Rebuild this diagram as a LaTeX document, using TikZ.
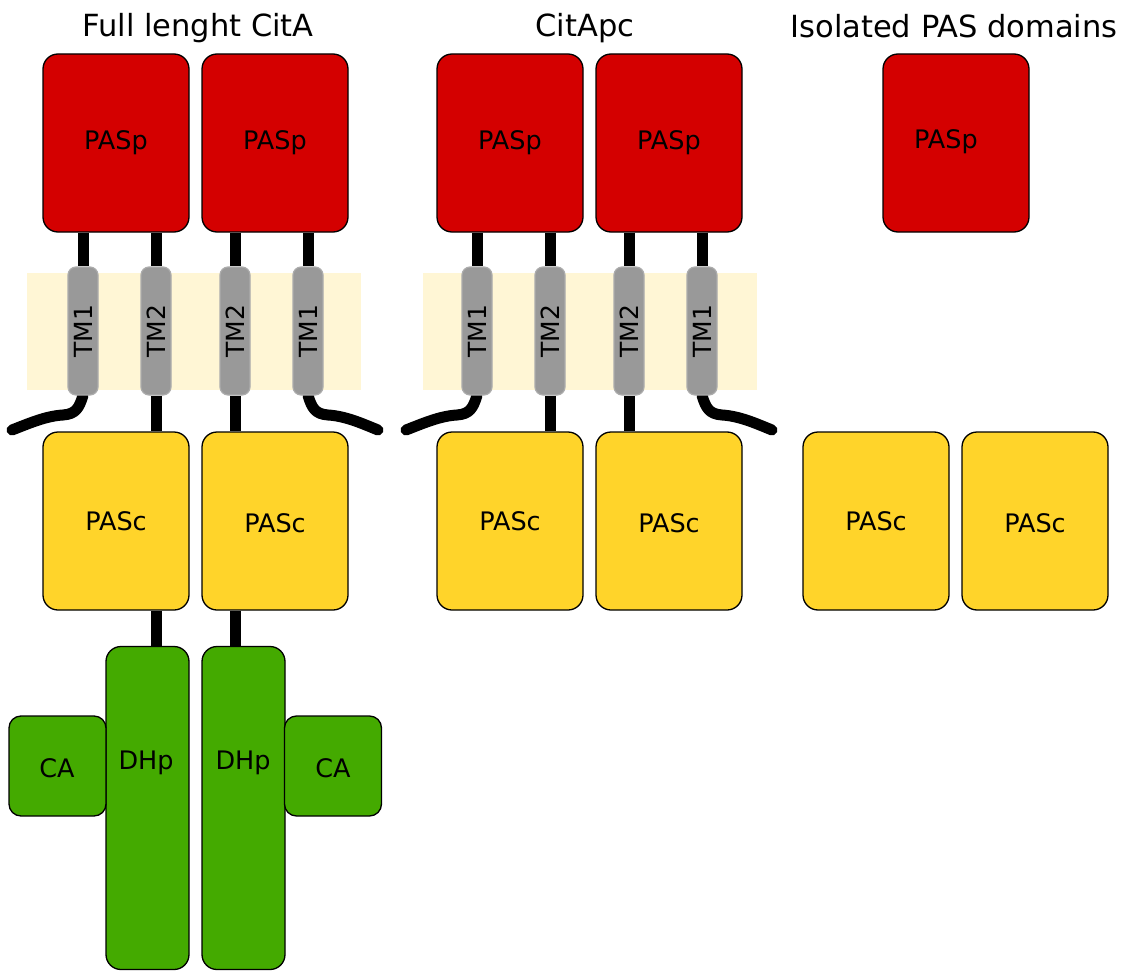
\documentclass[tikz,border=0pt]{standalone}
\usepackage{fontspec}
\setmainfont{DejaVu Sans}
\usetikzlibrary{backgrounds}
\pgfdeclarelayer{membrane}
\pgfsetlayers{membrane,background,main}
\definecolor{pasred}{HTML}{D40000}
\definecolor{pasyellow}{HTML}{FFD42A}
\definecolor{dhgreen}{HTML}{44AA00}
\definecolor{tmgray}{HTML}{999999}
\definecolor{tmedge}{HTML}{ACACAC}
\definecolor{memcol}{HTML}{FFF6D5}
\tikzset{
  box/.style={draw=black, line width=1.3pt, rounded corners=15pt, minimum width=146pt, minimum height=178pt, inner sep=0pt, font=\fontsize{25.5}{30}\selectfont},
  pasp/.style={box, fill=pasred},
  pasc/.style={box, fill=pasyellow},
  dhp/.style={box, fill=dhgreen, minimum width=83pt, minimum height=323pt},
  cabox/.style={box, fill=dhgreen, minimum width=97pt, minimum height=100pt, rounded corners=12pt},
  lbl/.style={inner sep=0pt, font=\fontsize{25.5}{30}\selectfont},
  title/.style={inner sep=0pt, anchor=base, font=\fontsize{30.5}{36}\selectfont},
  tmbar/.style={draw=tmedge, fill=tmgray, line width=1.2pt, rounded corners=8pt, minimum width=128pt, minimum height=30pt, inner sep=0pt, rotate=90, font=\fontsize{25}{30}\selectfont},
  mem/.style={fill=memcol, draw=none, minimum width=334pt, minimum height=117pt, inner sep=0pt},
  link/.style={line width=11pt, draw=black},
  curl/.style={link, line cap=round}
}
\begin{document}
\begin{tikzpicture}[x=1pt,y=-1pt]
\useasboundingbox (0,0) rectangle (1122,971);
% titles
\node[title] (ttl1) at (198,37) {Full lenght CitA};
\node[title] (ttl2) at (585,37) {CitApc};
\node[title] (ttl3) at (954,38) {Isolated PAS domains};

% ---------- Full length CitA ----------
\node[pasp] (pa1) at (116,143) {PASp};
\node[pasp] (pa2) at (275,143) {PASp};
\node[tmbar] (ta1) at (83,331) {TM1};
\node[tmbar] (ta2) at (156,331) {TM2};
\node[tmbar] (ta3) at (235,331) {TM2};
\node[tmbar] (ta4) at (308,331) {TM1};
\node[pasc] (ca1) at (116,521) {PASc};
\node[pasc] (ca2) at (275,521) {};
\node[lbl] (ca2t) at (275,523) {PASc};
\node[dhp] (dh1) at (147.5,808) {};
\node[dhp] (dh2) at (243.5,808) {};
\node[lbl] (dh1t) at (146,763) {DHp};
\node[lbl] (dh2t) at (243,763) {DHp};
\node[cabox] (cat1) at (57.5,766) {};
\node[cabox] (cat2) at (333,766) {};
\node[lbl] (cat1t) at (57,768) {CA};
\node[lbl] (cat2t) at (333,768) {CA};
\coordinate (ea1) at (12,430);
\coordinate (ea2) at (378,430);

% ---------- CitApc ----------
\node[pasp] (pb1) at (510,143) {PASp};
\node[pasp] (pb2) at (669,143) {PASp};
\node[tmbar] (tb1) at (477,331) {TM1};
\node[tmbar] (tb2) at (550,331) {TM2};
\node[tmbar] (tb3) at (629,331) {TM2};
\node[tmbar] (tb4) at (702,331) {TM1};
\node[pasc] (cb1) at (510,521) {PASc};
\node[pasc] (cb2) at (669,521) {};
\node[lbl] (cb2t) at (669,523) {PASc};
\coordinate (eb1) at (406,430);
\coordinate (eb2) at (772,430);

% ---------- Isolated ----------
\node[pasp] (pc1) at (956,143) {};
\node[lbl] (pc1t) at (946,142) {PASp};
\node[pasc] (cc1) at (876,521) {PASc};
\node[pasc] (cc2) at (1035,521) {};
\node[lbl] (cc2t) at (1035,523) {PASc};

% membranes
\begin{pgfonlayer}{membrane}
\node[mem] (mem1) at (194,331.5) {};
\node[mem] (mem2) at (589.5,331.5) {};
\end{pgfonlayer}

% connectors
\begin{pgfonlayer}{background}
% CitA
\foreach \t in {ta1,ta2,ta3,ta4}{\draw[link] (pa1.south -| \t) -- (\t);}
\draw[link] (ta2) -- (ta2 |- ca1.north);
\draw[link] (ta3) -- (ta3 |- ca2.north);
\draw[link] (ta2 |- ca1.south) -- (ta2 |- dh1.north);
\draw[link] (ta3 |- ca2.south) -- (ta3 |- dh2.north);
\draw[curl] (ta1) -- (ta1.west) .. controls (79,408) and (76,414) .. (63,415) .. controls (46,416) and (30,423) .. (ea1);
\draw[curl] (ta4) -- (ta4.west) .. controls (312,408) and (315,414) .. (328,415) .. controls (345,416) and (361,423) .. (ea2);
% CitApc
\foreach \t in {tb1,tb2,tb3,tb4}{\draw[link] (pb1.south -| \t) -- (\t);}
\draw[link] (tb2) -- (tb2 |- cb1.north);
\draw[link] (tb3) -- (tb3 |- cb2.north);
\draw[curl] (tb1) -- (tb1.west) .. controls (473,408) and (470,414) .. (457,415) .. controls (440,416) and (424,423) .. (eb1);
\draw[curl] (tb4) -- (tb4.west) .. controls (706,408) and (709,414) .. (722,415) .. controls (739,416) and (755,423) .. (eb2);
\end{pgfonlayer}
\end{tikzpicture}
\end{document}
